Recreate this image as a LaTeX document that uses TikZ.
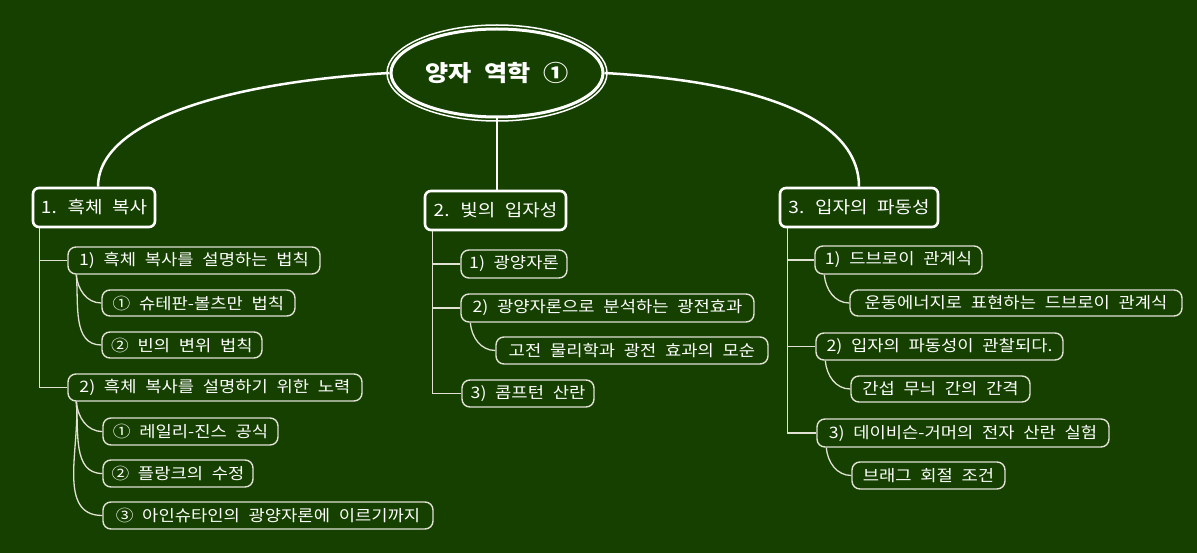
\documentclass[tikz,border=0pt]{standalone}
\usepackage{fontspec}
\setmainfont[FakeStretch=1.12,WordSpace=2.2]{Noto Sans CJK KR}
\usetikzlibrary{calc,shapes.geometric}
\definecolor{bg}{RGB}{21,64,0}
\definecolor{lnc}{RGB}{225,225,212}
\begin{document}
\begin{tikzpicture}[x=1pt,y=-1pt,
  lvone/.style={draw=white, line width=2.6pt, rounded corners=6pt, text=white,
    font=\fontsize{17}{20}\selectfont, minimum height=39pt, inner sep=0pt},
  lvtwo/.style={draw=lnc, line width=1.4pt, rounded corners=8pt, text=white,
    font=\fontsize{15.8}{18}\selectfont, minimum height=27pt, inner sep=0pt},
  rootnode/.style={ellipse, draw=white, line width=3pt, text=white,
    font=\fontsize{22.5}{26}\selectfont\bfseries, minimum width=212pt, minimum height=88pt, inner sep=0pt},
  lone/.style={draw=white, line width=2.5pt},
  ltwo/.style={draw=lnc, line width=1.3pt}]
\fill[bg] (0,0) rectangle (1197,553);
\useasboundingbox (0,0) rectangle (1197,553);

\node[rootnode] (root) at (497,73) {양자 역학 ①};
\draw[white, line width=1.5pt] (root.center) ellipse [x radius=110pt, y radius=48pt];

\node[lvone, minimum width=122pt] (a) at (94,207.5) {1. 흑체 복사};
\node[lvone, minimum width=141pt] (b) at (495.5,210.5) {2. 빛의 입자성};
\node[lvone, minimum width=158pt] (c) at (859,207.5) {3. 입자의 파동성};

\node[lvtwo, minimum width=252pt] (a1) at (194,260.5) {1) 흑체 복사를 설명하는 법칙};
\node[lvtwo, minimum width=193pt, minimum height=26pt] (a1i) at (198.5,303) {① 슈테판-볼츠만 법칙};
\node[lvtwo, minimum width=160pt, minimum height=26pt] (a1ii) at (182,345) {② 빈의 변위 법칙};
\node[lvtwo, minimum width=294pt] (a2) at (215,387.5) {2) 흑체 복사를 설명하기 위한 노력};
\node[lvtwo, minimum width=175pt] (a2i) at (190.5,431.5) {① 레일리-진스 공식};
\node[lvtwo, minimum width=150pt] (a2ii) at (178,473.5) {② 플랑크의 수정};
\node[lvtwo, minimum width=330pt] (a2iii) at (268,515.5) {③ 아인슈타인의 광양자론에 이르기까지};

\node[lvtwo, minimum width=106pt, minimum height=28pt] (b1) at (514,264) {1) 광양자론};
\node[lvtwo, minimum width=293pt, minimum height=28pt] (b2) at (607.5,308) {2) 광양자론으로 분석하는 광전효과};
\node[lvtwo, minimum width=272pt] (b2i) at (632,350.5) {고전 물리학과 광전 효과의 모순};
\node[lvtwo, minimum width=132pt] (b3) at (528,393.5) {3) 콤프턴 산란};

\node[lvtwo, minimum width=167pt, minimum height=28pt] (c1) at (898.5,260) {1) 드브로이 관계식};
\node[lvtwo, minimum width=332pt, minimum height=26pt] (c1i) at (1016,303) {운동에너지로 표현하는 드브로이 관계식};
\node[lvtwo, minimum width=247pt] (c2) at (939.5,346.5) {2) 입자의 파동성이 관찰되다.};
\node[lvtwo, minimum width=179pt, minimum height=26pt] (c2i) at (940.5,389) {간섭 무늬 간의 간격};
\node[lvtwo, minimum width=292pt, minimum height=28pt] (c3) at (963,433) {3) 데이비슨-거머의 전자 산란 실험};
\node[lvtwo, minimum width=153pt] (c3i) at (928.5,475.5) {브래그 회절 조건};

% level-one connectors
\draw[lone] (root.west) .. controls (230,82) and (98,120) .. ($(a.north)+(4,0)$);
\draw[lone] (root.south) -- (root.south |- b.north);
\draw[lone] (root.east) .. controls (764,82) and (859,120) .. (c.north);

% level-two elbows
\draw[ltwo] ($(a.south west)+(8,0)$) |- (a1.west);
\draw[ltwo] ($(a.south west)+(8,0)$) |- (a2.west);
\draw[ltwo] ($(b.south west)+(9,0)$) |- (b1.west);
\draw[ltwo] ($(b.south west)+(9,0)$) |- (b2.west);
\draw[ltwo] ($(b.south west)+(9,0)$) |- (b3.west);
\draw[ltwo] ($(c.south west)+(9,0)$) |- (c1.west);
\draw[ltwo] ($(c.south west)+(9,0)$) |- (c2.west);
\draw[ltwo] ($(c.south west)+(9,0)$) |- (c3.west);

% sub curves
\draw[ltwo] ($(a1.south west)+(9,0)$) to[out=-85,in=180] (a1i.west);
\draw[ltwo] ($(a1.south west)+(9,0)$) to[out=-85,in=180] (a1ii.west);
\draw[ltwo] ($(a2.south west)+(9,0)$) to[out=-85,in=180] (a2i.west);
\draw[ltwo] ($(a2.south west)+(9,0)$) to[out=-85,in=180] (a2ii.west);
\draw[ltwo] ($(a2.south west)+(9,0)$) to[out=-85,in=180] (a2iii.west);
\draw[ltwo] ($(b2.south west)+(10,0)$) to[out=-85,in=180] (b2i.west);
\draw[ltwo] ($(c1.south west)+(10,0)$) to[out=-85,in=180] (c1i.west);
\draw[ltwo] ($(c2.south west)+(10,0)$) to[out=-85,in=180] (c2i.west);
\draw[ltwo] ($(c3.south west)+(10,0)$) to[out=-85,in=180] (c3i.west);
\end{tikzpicture}
\end{document}
